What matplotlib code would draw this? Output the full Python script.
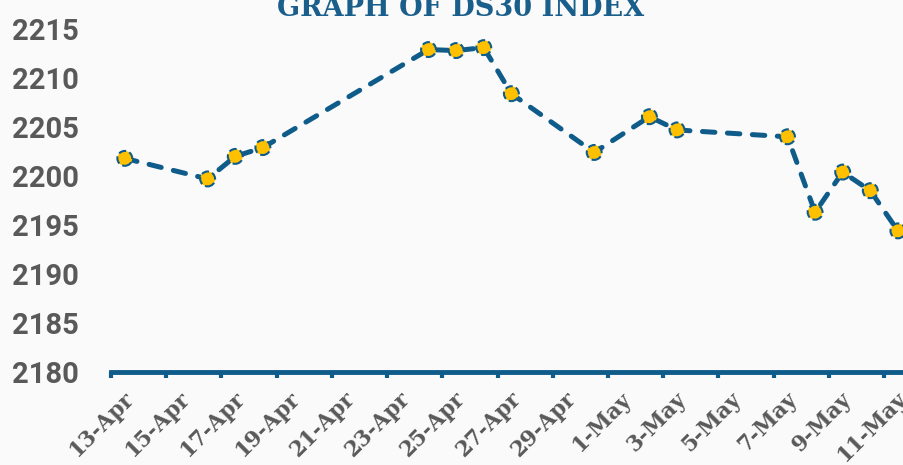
import matplotlib
matplotlib.use("Agg")
import matplotlib.pyplot as plt
import matplotlib.transforms as mtrans
import datetime as dt

# ---- data ----
dates = ["2024-04-13", "2024-04-16", "2024-04-17", "2024-04-18", "2024-04-24",
         "2024-04-25", "2024-04-26", "2024-04-27", "2024-04-30", "2024-05-02",
         "2024-05-03", "2024-05-07", "2024-05-08", "2024-05-09", "2024-05-10",
         "2024-05-11"]
values = [2201.8, 2199.7, 2202.0, 2202.9, 2212.9,
          2212.8, 2213.1, 2208.4, 2202.4, 2206.05,
          2204.7, 2204.0, 2196.3, 2200.4, 2198.5,
          2194.4]
yticks = [2180, 2185, 2190, 2195, 2200, 2205, 2210, 2215]
title = "GRAPH OF DS30 INDEX"

BLUE = "#0f5c8a"
GOLD = "#ffc000"
GRAY = "#595959"
BG = "#fafafa"

# Excel date axis places points in the middle of each day
x = [dt.datetime.strptime(d, "%Y-%m-%d") + dt.timedelta(hours=12) for d in dates]

fig = plt.figure(figsize=(9.04, 4.65), dpi=100, facecolor=BG)
ax = fig.add_axes([111 / 904, 93 / 465, 1 - 111 / 904, 1 - 93 / 465 - 29 / 465])
ax.set_facecolor(BG)

line, = ax.plot(x, values, color=BLUE, lw=3.6, solid_capstyle="round",
                dash_capstyle="round", zorder=2)
line.set_dashes((2.5, 2.5))
ax.scatter(x, values, s=115, color=GOLD, edgecolors=BLUE, linewidths=1.5,
           linestyles="--", zorder=3)

start = dt.datetime(2024, 4, 13)
ax.set_xlim(start, start + dt.timedelta(days=28.72))
ax.set_ylim(2180, 2215)
ax.set_yticks(yticks)

ticks = [start + dt.timedelta(days=2 * i) for i in range(15)]
ax.set_xticks(ticks)
ax.set_xticklabels([f"{t.day}-{t.strftime('%b')}" for t in ticks])

for s in ["top", "right", "left"]:
    ax.spines[s].set_visible(False)
ax.spines["bottom"].set_color(BLUE)
ax.spines["bottom"].set_linewidth(3.5)

ax.tick_params(axis="x", direction="out", length=4.5, width=3, color=BLUE,
               pad=7, labelcolor=GRAY)
ax.tick_params(axis="y", length=0, pad=23, labelcolor=GRAY)

offset = mtrans.ScaledTranslation(12 / 100, 0, fig.dpi_scale_trans)
for lab in ax.get_xticklabels():
    lab.set_rotation(45)
    lab.set_ha("right")
    lab.set_va("top")
    lab.set_rotation_mode("anchor")
    lab.set_fontfamily("DejaVu Serif")
    lab.set_fontweight("bold")
    lab.set_fontsize(15.5)
    lab.set_transform(lab.get_transform() + offset)

for lab in ax.get_yticklabels():
    lab.set_fontfamily("Roboto")
    lab.set_fontweight("bold")
    lab.set_fontsize(21)

fig.text(461 / 904, 1 - 16 / 465, title, ha="center", va="baseline",
         fontsize=19.5, fontweight="bold", family="DejaVu Serif", color="#1a5f8c")

fig.savefig("out.png", dpi=100, facecolor=BG)
